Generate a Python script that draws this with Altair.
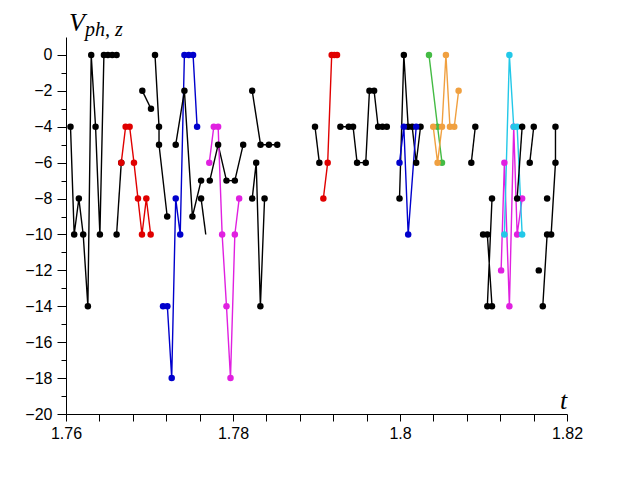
import altair as alt
import pandas as pd

# Each segment: (name, colour, t values, V values)
seg_names = []
seg_colors = []
seg_t = []
seg_v = []

def add(name, color, t, v):
    seg_names.append(name); seg_colors.append(color); seg_t.append(t); seg_v.append(v)

BLACK = "#000000"; RED = "#e00000"; BLUE = "#0000cc"; MAG = "#e020e0"
GREEN = "#44bb44"; ORANGE = "#f0a040"; CYAN = "#22c8e8"

add("kA", BLACK, [1.76054, 1.76098, 1.76154, 1.76206, 1.76262, 1.76302, 1.76354, 1.76406, 1.76454, 1.76502, 1.76554, 1.76606],
    [-4, -10, -8, -10, -14, 0, -4, -10, 0, 0, 0, 0])
add("kB", BLACK, [1.76606, 1.76662], [-10, -6])
add("rA", RED, [1.76662, 1.76714, 1.76762, 1.76814, 1.76862, 1.7691, 1.76962, 1.77014],
    [-6, -4, -4, -6, -8, -10, -8, -10])
add("kC", BLACK, [1.76914, 1.77018], [-2, -3])
add("kD", BLACK, [1.77066, 1.77114, 1.77114, 1.77212], [0, -4, -5, -9])
add("bA", BLUE, [1.77162, 1.77214, 1.77266, 1.77314, 1.77368, 1.77418, 1.7747, 1.77522, 1.7757],
    [-14, -14, -18, -8, -10, 0, 0, 0, -4])
add("kE", BLACK, [1.77314, 1.77418, 1.77514, 1.77618], [-5, -2, -9, -7])
add("kF", BLACK, [1.77618, 1.77674], [-8, -10])
add("kG", BLACK, [1.77722, 1.77822, 1.77922, 1.78022, 1.78122], [-7, -5, -7, -7, -5])
add("mA", MAG, [1.77716, 1.7777, 1.77822, 1.7787, 1.77922, 1.7797, 1.78022, 1.78074],
    [-6, -4, -4, -10, -14, -18, -10, -8])
add("kH", BLACK, [1.7823, 1.7833, 1.7843, 1.7853], [-2, -5, -5, -5])
add("kI", BLACK, [1.7823, 1.78278, 1.78328, 1.78378], [-8, -6, -14, -8])
add("kJ", BLACK, [1.78982, 1.79034], [-4, -6])
add("rB", RED, [1.79082, 1.79134, 1.79182, 1.79214, 1.79246], [-8, -6, 0, 0, 0])
add("kK", BLACK, [1.79286, 1.79386, 1.79438, 1.79486, 1.7959, 1.79634, 1.7969, 1.79738, 1.7979, 1.79842],
    [-4, -4, -4, -6, -6, -2, -2, -4, -4, -4])
add("kL", BLACK, [1.79994, 1.80046, 1.80098, 1.80146, 1.80194, 1.80246], [-8, 0, -4, -4, -6, -4])
add("bB", BLUE, [1.79994, 1.80046, 1.80098, 1.80194], [-6, -4, -10, -4])
add("gA", GREEN, [1.80347, 1.8045, 1.80503], [0, -4, -6])
add("oA", ORANGE, [1.80398, 1.8045, 1.80503, 1.8055, 1.80598, 1.8065, 1.80702], [-4, -6, -4, 0, -4, -4, -2])
add("kM", BLACK, [1.80854, 1.80902], [-6, -4])
add("kN", BLACK, [1.80995, 1.81046, 1.81102, 1.81046, 1.81102], [-10, -10, -14, -14, -8])
add("mB", MAG, [1.81211, 1.8125, 1.8131, 1.81362, 1.81403, 1.81463], [-12, -6, -14, -4, -10, -8])
add("cA", CYAN, [1.8125, 1.8131, 1.81362, 1.81403, 1.81463], [-10, 0, -4, -4, -10])
add("kO", BLACK, [1.81403, 1.81463], [-8, -4])
add("kP", BLACK, [1.81554, 1.81602], [-6, -4])
add("kQ", BLACK, [1.81662], [-12])
add("kR", BLACK, [1.81762], [-8])
add("kS", BLACK, [1.8171, 1.81762, 1.8181, 1.81862, 1.81862], [-14, -10, -10, -6, -4])

# points drawn without a marker (line ends only)
no_marker = [("kF", 1)]

x_ticks = [1.76, 1.764, 1.768, 1.772, 1.776, 1.78, 1.784, 1.788, 1.792, 1.796, 1.8,
           1.804, 1.808, 1.812, 1.816, 1.82]
y_ticks = [-20, -19, -18, -17, -16, -15, -14, -13, -12, -11, -10, -9, -8, -7, -6, -5,
           -4, -3, -2, -1, 0]

rows = []
k = 0
for name, col, ts, vs in zip(seg_names, seg_colors, seg_t, seg_v):
    for j, (t, v) in enumerate(zip(ts, vs)):
        rows.append({"t": t, "v": v, "seg": name, "col": col, "i": k,
                     "dot": 0 if (name, j) in no_marker else 1})
        k += 1
df = pd.DataFrame(rows)

FONT = "Liberation Sans"
xscale = alt.Scale(domain=[1.76, 1.82], nice=False, zero=False)
yscale = alt.Scale(domain=[-20, 1], nice=False, zero=False)

xaxis = alt.Axis(values=x_ticks, tickCount=100, title=None, grid=False, domainColor="black",
                 tickColor="black", tickSize=7, labelFont=FONT, labelFontSize=16, labelColor="black",
                 labelPadding=4, labelFlush=False, labelOverlap=False, labelBound=False,
                 labelExpr="abs(datum.value*50 - round(datum.value*50)) < 1e-6 ? format(datum.value, '.2~f') : ''")
yaxis = alt.Axis(values=y_ticks, tickCount=100, title=None, grid=False, domainColor="black",
                 tickColor="black",
                 tickSize={"condition": {"test": "datum.value % 2 == 0", "value": 9}, "value": 5},
                 labelFont=FONT, labelFontSize=16, labelColor="black", labelPadding=5,
                 labelOverlap=False, labelBound=False,
                 labelExpr="datum.value % 2 == 0 ? format(datum.value, 'd') : ''")

base = alt.Chart(df)
lines = base.mark_line(strokeWidth=1.4).encode(
    x=alt.X("t:Q", scale=xscale, axis=xaxis),
    y=alt.Y("v:Q", scale=yscale, axis=yaxis),
    detail="seg:N",
    order="i:Q",
    color=alt.Color("col:N", scale=None),
)
pts = base.transform_filter("datum.dot == 1").mark_circle(size=42, opacity=1).encode(
    x="t:Q", y="v:Q", color=alt.Color("col:N", scale=None),
)

v_txt = alt.Chart(pd.DataFrame({"s": ["V"]})).mark_text(
    font="Liberation Serif", fontStyle="italic", fontSize=26, align="left", baseline="alphabetic",
    color="black").encode(text="s:N", x=alt.value(3), y=alt.value(-6))
sub_txt = alt.Chart(pd.DataFrame({"s": ["ph, z"]})).mark_text(
    font="Liberation Serif", fontStyle="italic", fontSize=20, align="left", baseline="alphabetic",
    color="black").encode(text="s:N", x=alt.value(19), y=alt.value(-1))
t_txt = alt.Chart(pd.DataFrame({"s": ["t"]})).mark_text(
    font="Liberation Serif", fontStyle="italic", fontSize=26, align="left", baseline="alphabetic",
    color="black").encode(text="s:N", x=alt.value(494), y=alt.value(372))

chart = alt.layer(lines, pts, v_txt, sub_txt, t_txt).properties(
    width=501, height=377,
    autosize=alt.AutoSizeParams(type="none"),
    padding={"left": 58, "top": 29, "right": 40, "bottom": 50},
    background="white",
).configure_view(strokeWidth=0, stroke="transparent")

chart.save("out.html", embed_options={"renderer": "svg", "actions": False})
